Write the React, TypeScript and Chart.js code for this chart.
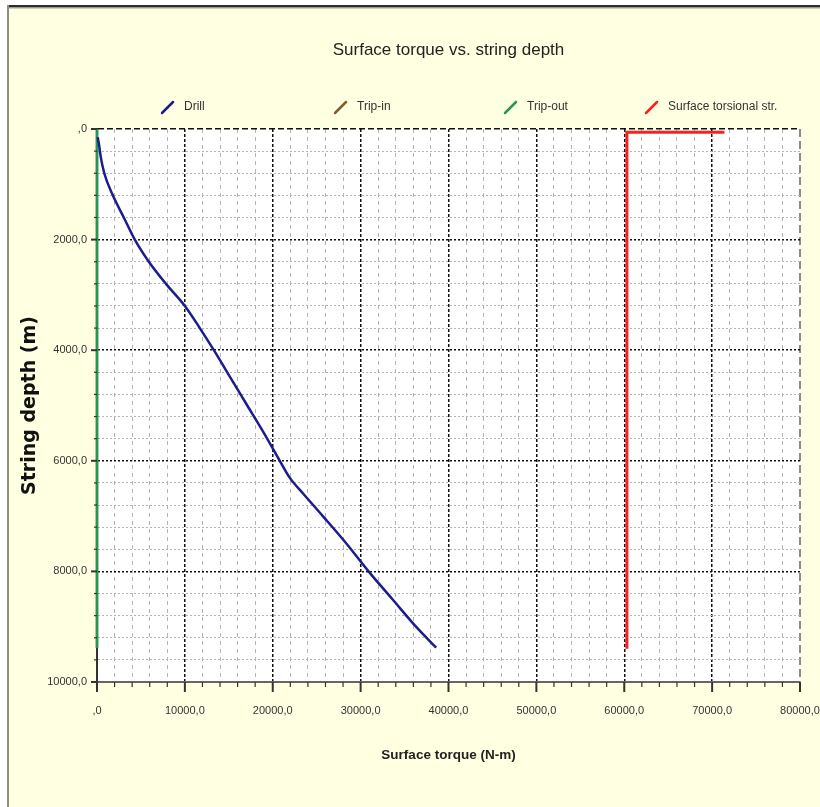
import React, { useEffect, useRef } from 'react';
import { Chart, registerables } from 'chart.js';

Chart.register(...registerables);

// ---- data ----
const drillDepth = [150, 300, 500, 800, 1200, 1600, 2000, 2400, 2800, 3200, 3600, 4000, 4500, 5000, 5500, 6000, 6300, 6600, 7000, 7500, 8000, 8500, 9000, 9380];
const drillTorque = [80, 250, 420, 830, 1800, 3050, 4300, 5900, 7850, 10000, 11700, 13300, 15200, 17100, 19000, 20800, 21900, 23500, 25700, 28400, 30900, 33600, 36300, 38600];
const tripInDepth = [0, 9380];
const tripInTorque = [0, 0];
const tripOutDepth = [0, 9380];
const tripOutTorque = [0, 0];
const torsionalDepth = [9400, 60, 60];
const torsionalTorque = [60300, 60300, 71400];

const seriesNames = ['Drill', 'Trip-in', 'Trip-out', 'Surface torsional str.'];
const seriesColors = ['#1c1c8c', '#8b5a2b', '#1f9a55', '#ff1e1e'];

const chartTitle = 'Surface torque vs. string depth';
const xTitle = 'Surface torque (N-m)';
const yTitle = 'String depth (m)';

const xMin = 0, xMax = 80000, xStep = 2000, xMajor = 10000;
const yMin = 0, yMax = 10000, yStep = 400, yMajor = 2000;

const SANS = '"Liberation Sans", Arial, sans-serif';

const fmt = (v: number) => (v === 0 ? '' : String(v)) + ',0';

const pts = (xs: number[], ys: number[]) => xs.map((x, i) => ({ x, y: ys[i] }));

const framePlugin = {
  id: 'frame',
  beforeDraw(chart: any) {
    const { ctx, width, height, chartArea } = chart;
    ctx.save();
    ctx.fillStyle = '#ffffff';
    ctx.fillRect(0, 0, width, height);
    ctx.fillStyle = '#ffffe2';
    ctx.fillRect(7, 5, width - 7, height - 5);
    ctx.fillStyle = '#2e2e2e';
    ctx.fillRect(7, 5, width - 7, 2.5);
    ctx.fillStyle = '#a4a494';
    ctx.fillRect(7, 7.5, width - 7, 1);
    ctx.fillStyle = '#8e8e80';
    ctx.fillRect(7, 5, 2, height - 5);
    ctx.fillStyle = '#ffffff';
    ctx.fillRect(chartArea.left, chartArea.top, chartArea.right - chartArea.left, chartArea.bottom - chartArea.top);
    ctx.restore();
  },
};

const ticksPlugin = {
  id: 'tickMarks',
  afterDraw(chart: any) {
    const { ctx, chartArea, scales } = chart;
    const x = scales.x, y = scales.y;
    ctx.save();
    ctx.strokeStyle = '#333333';
    x.ticks.forEach((t: any) => {
      const px = x.getPixelForValue(t.value);
      const major = t.value % xMajor === 0;
      ctx.lineWidth = major ? 2 : 1.2;
      ctx.beginPath();
      ctx.moveTo(px, chartArea.bottom);
      ctx.lineTo(px, chartArea.bottom + (major ? 10 : 5));
      ctx.stroke();
    });
    y.ticks.forEach((t: any) => {
      const py = y.getPixelForValue(t.value);
      const major = t.value % yMajor === 0;
      ctx.lineWidth = major ? 2 : 1.2;
      ctx.beginPath();
      ctx.moveTo(chartArea.left - (major ? 6 : 3), py);
      ctx.lineTo(chartArea.left, py);
      ctx.stroke();
    });
    ctx.restore();
  },
};

const legendPlugin = {
  id: 'customLegend',
  afterDraw(chart: any) {
    const { ctx } = chart;
    const textX = [184, 357, 527, 668];
    const cy = 107;
    ctx.save();
    ctx.font = '12px ' + SANS;
    ctx.textBaseline = 'middle';
    ctx.textAlign = 'left';
    seriesNames.forEach((name, i) => {
      const tx = textX[i];
      ctx.strokeStyle = seriesColors[i];
      ctx.lineWidth = 2.5;
      ctx.lineCap = 'round';
      ctx.beginPath();
      ctx.moveTo(tx - 22, cy + 6);
      ctx.lineTo(tx - 11, cy - 5);
      ctx.stroke();
      ctx.fillStyle = '#333333';
      ctx.fillText(name, tx, cy);
    });
    ctx.restore();
  },
};

export default function App() {
  const ref = useRef<HTMLCanvasElement | null>(null);

  useEffect(() => {
    if (!ref.current) return;
    const chart = new Chart(ref.current, {
      type: 'scatter',
      data: {
        datasets: [
          {
            label: seriesNames[0],
            data: pts(drillTorque, drillDepth),
            showLine: true,
            borderColor: seriesColors[0],
            backgroundColor: seriesColors[0],
            borderWidth: 2.5,
            pointRadius: 0,
            cubicInterpolationMode: 'monotone',
            clip: false,
            order: 1,
          },
          {
            label: seriesNames[1],
            data: pts(tripInTorque, tripInDepth),
            showLine: true,
            borderColor: seriesColors[1],
            backgroundColor: seriesColors[1],
            borderWidth: 2.5,
            pointRadius: 0,
            clip: false,
            order: 5,
          },
          {
            label: seriesNames[2],
            data: pts(tripOutTorque, tripOutDepth),
            showLine: true,
            borderColor: seriesColors[2],
            backgroundColor: seriesColors[2],
            borderWidth: 2.5,
            pointRadius: 0,
            clip: false,
            order: 2,
          },
          {
            label: seriesNames[3],
            data: pts(torsionalTorque, torsionalDepth),
            showLine: true,
            borderColor: seriesColors[3],
            backgroundColor: seriesColors[3],
            borderWidth: 3,
            pointRadius: 0,
            clip: false,
            order: 1,
          },
        ],
      },
      options: {
        animation: false,
        responsive: false,
        maintainAspectRatio: false,
        layout: { padding: { left: 0, right: 20, top: 0, bottom: 0 } },
        plugins: {
          legend: { display: false },
          tooltip: { enabled: false },
          title: {
            display: true,
            text: chartTitle,
            fullSize: false,
            color: '#222222',
            font: { family: SANS, size: 17, weight: 'normal' },
            padding: { top: 40, bottom: 68.6 },
          },
        },
        scales: {
          x: {
            type: 'linear',
            min: xMin,
            max: xMax,
            ticks: {
              stepSize: xStep,
              autoSkip: false,
              maxRotation: 0,
              padding: 22,
              color: '#333333',
              font: { family: SANS, size: 11 },
              callback: (v: any) => (Number(v) % xMajor === 0 ? fmt(Number(v)) : ''),
            },
            grid: {
              drawTicks: false,
              color: (c: any) => {
                const v = c.tick ? c.tick.value : -1;
                if (v === xMax) return '#8a8a8a';
                if (v % xMajor === 0) return '#111111';
                return '#b4b4b4';
              },
              lineWidth: (c: any) => {
                const v = c.tick ? c.tick.value : -1;
                if (v === xMax) return 2;
                return v % xMajor === 0 ? 1.5 : 1;
              },
            },
            border: {
              display: true,
              color: '#666666',
              width: 2,
              dash: (c: any) => {
                const v = c.tick ? c.tick.value : undefined;
                if (v === undefined) return [];
                if (v === xMax) return [8, 4];
                if (v % xMajor === 0) return [3, 2];
                return [4, 4];
              },
            },
            title: {
              display: true,
              text: xTitle,
              color: '#222222',
              font: { family: SANS, size: 13.5, weight: 'bold' },
              padding: { top: 0, bottom: 44 },
            },
            afterFit: (s: any) => {
              s.height = 125;
              s.paddingLeft = 0;
              s.paddingRight = 0;
            },
          },
          y: {
            type: 'linear',
            reverse: true,
            min: yMin,
            max: yMax,
            ticks: {
              stepSize: yStep,
              autoSkip: false,
              padding: 10,
              color: '#333333',
              font: { family: SANS, size: 11 },
              callback: (v: any) => (Number(v) % yMajor === 0 ? fmt(Number(v)) : ''),
            },
            grid: {
              drawTicks: false,
              color: (c: any) => {
                const v = c.tick ? c.tick.value : -1;
                if (v % yMajor === 0) return '#111111';
                return '#b4b4b4';
              },
              lineWidth: (c: any) => {
                const v = c.tick ? c.tick.value : -1;
                return v % yMajor === 0 ? 1.5 : 1;
              },
            },
            border: {
              display: true,
              color: '#333333',
              width: 2,
              dash: (c: any) => {
                const v = c.tick ? c.tick.value : undefined;
                if (v === undefined) return [];
                if (v === yMin) return [6, 3];
                return [2, 2];
              },
            },
            title: {
              display: true,
              text: yTitle,
              color: '#111111',
              font: { family: '"DejaVu Sans", sans-serif', size: 19, weight: 'bold' },
              padding: { top: 19, bottom: 0 },
            },
            afterFit: (s: any) => {
              s.width = 97;
              s.paddingTop = 0;
              s.paddingBottom = 0;
            },
          },
        },
      },
      plugins: [framePlugin, ticksPlugin, legendPlugin],
    } as any);
    return () => chart.destroy();
  }, []);

  return (
    <div style={{ position: 'absolute', left: 0, top: 0, width: 820, height: 807 }}>
      <canvas ref={ref} width={820} height={807} style={{ width: 820, height: 807, display: 'block' }} />
    </div>
  );
}
